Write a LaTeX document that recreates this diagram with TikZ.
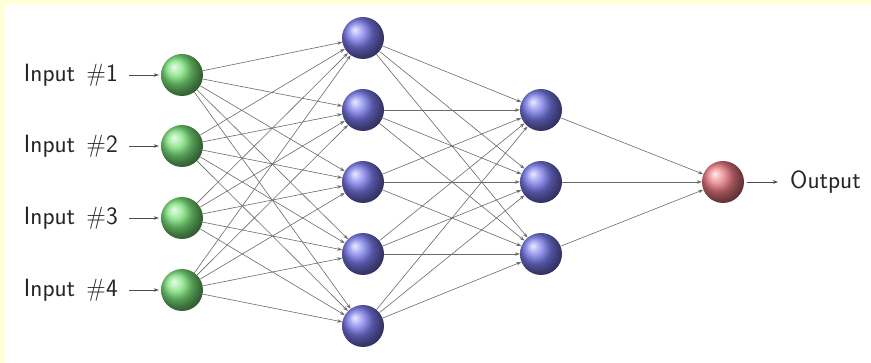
\documentclass[tikz,border=0pt]{standalone}
\usetikzlibrary{arrows.meta}
\definecolor{bordery}{HTML}{FFFFD8}
\definecolor{ballgreen}{HTML}{78E078}
\definecolor{ballblue}{HTML}{7878EA}
\definecolor{ballred}{HTML}{E87880}
\begin{document}
\begin{tikzpicture}[x=1pt,y=-1pt,
  neuron/.style={circle,minimum size=42pt,inner sep=0pt},
  inneuron/.style={neuron,ball color=ballgreen},
  hidneuron/.style={neuron,ball color=ballblue},
  outneuron/.style={neuron,ball color=ballred},
  lab/.style={font=\sffamily\fontsize{25}{29}\selectfont,inner sep=0pt,text=black!85},
  conn/.style={draw=black!58,line width=0.6pt,-{Stealth[length=5pt,width=3.5pt]}},
  ioarrow/.style={draw=black!70,line width=0.6pt,-{Stealth[length=5pt,width=3.5pt]}}
]
\useasboundingbox (0,0) rectangle (871,363);
\fill[white] (0,0) rectangle (871,363);
\fill[bordery] (0,0) rectangle (871,5);
\fill[bordery] (0,0) rectangle (5,363);

\foreach \i/\y in {1/75,2/146,3/218,4/290}{
  \node[inneuron] (I\i) at (182,\y) {};
  \node[lab,anchor=east] (L\i) at (118,\y) {Input\hspace{0.45em}\#\i};
  \draw[ioarrow,shorten <=11pt,shorten >=2pt] (L\i.east) -- (I\i.west);
}
\foreach \i/\y in {1/38,2/110,3/182,4/254,5/326}{
  \node[hidneuron] (H\i) at (363,\y) {};
}
\foreach \i/\y in {1/110,2/182,3/254}{
  \node[hidneuron] (G\i) at (541,\y) {};
}
\node[outneuron] (O) at (723,182) {};
\node[lab,anchor=west] (OL) at (790,182) {Output};
\draw[ioarrow,shorten <=3pt,shorten >=12pt] (O.east) -- (OL.west);

\foreach \i in {1,...,4}{
  \foreach \j in {1,...,5}{
    \draw[conn] (I\i) -- (H\j);
  }
}
\foreach \i in {1,...,5}{
  \foreach \j in {1,...,3}{
    \draw[conn] (H\i) -- (G\j);
  }
}
\foreach \j in {1,...,3}{
  \draw[conn] (G\j) -- (O);
}
\end{tikzpicture}
\end{document}
